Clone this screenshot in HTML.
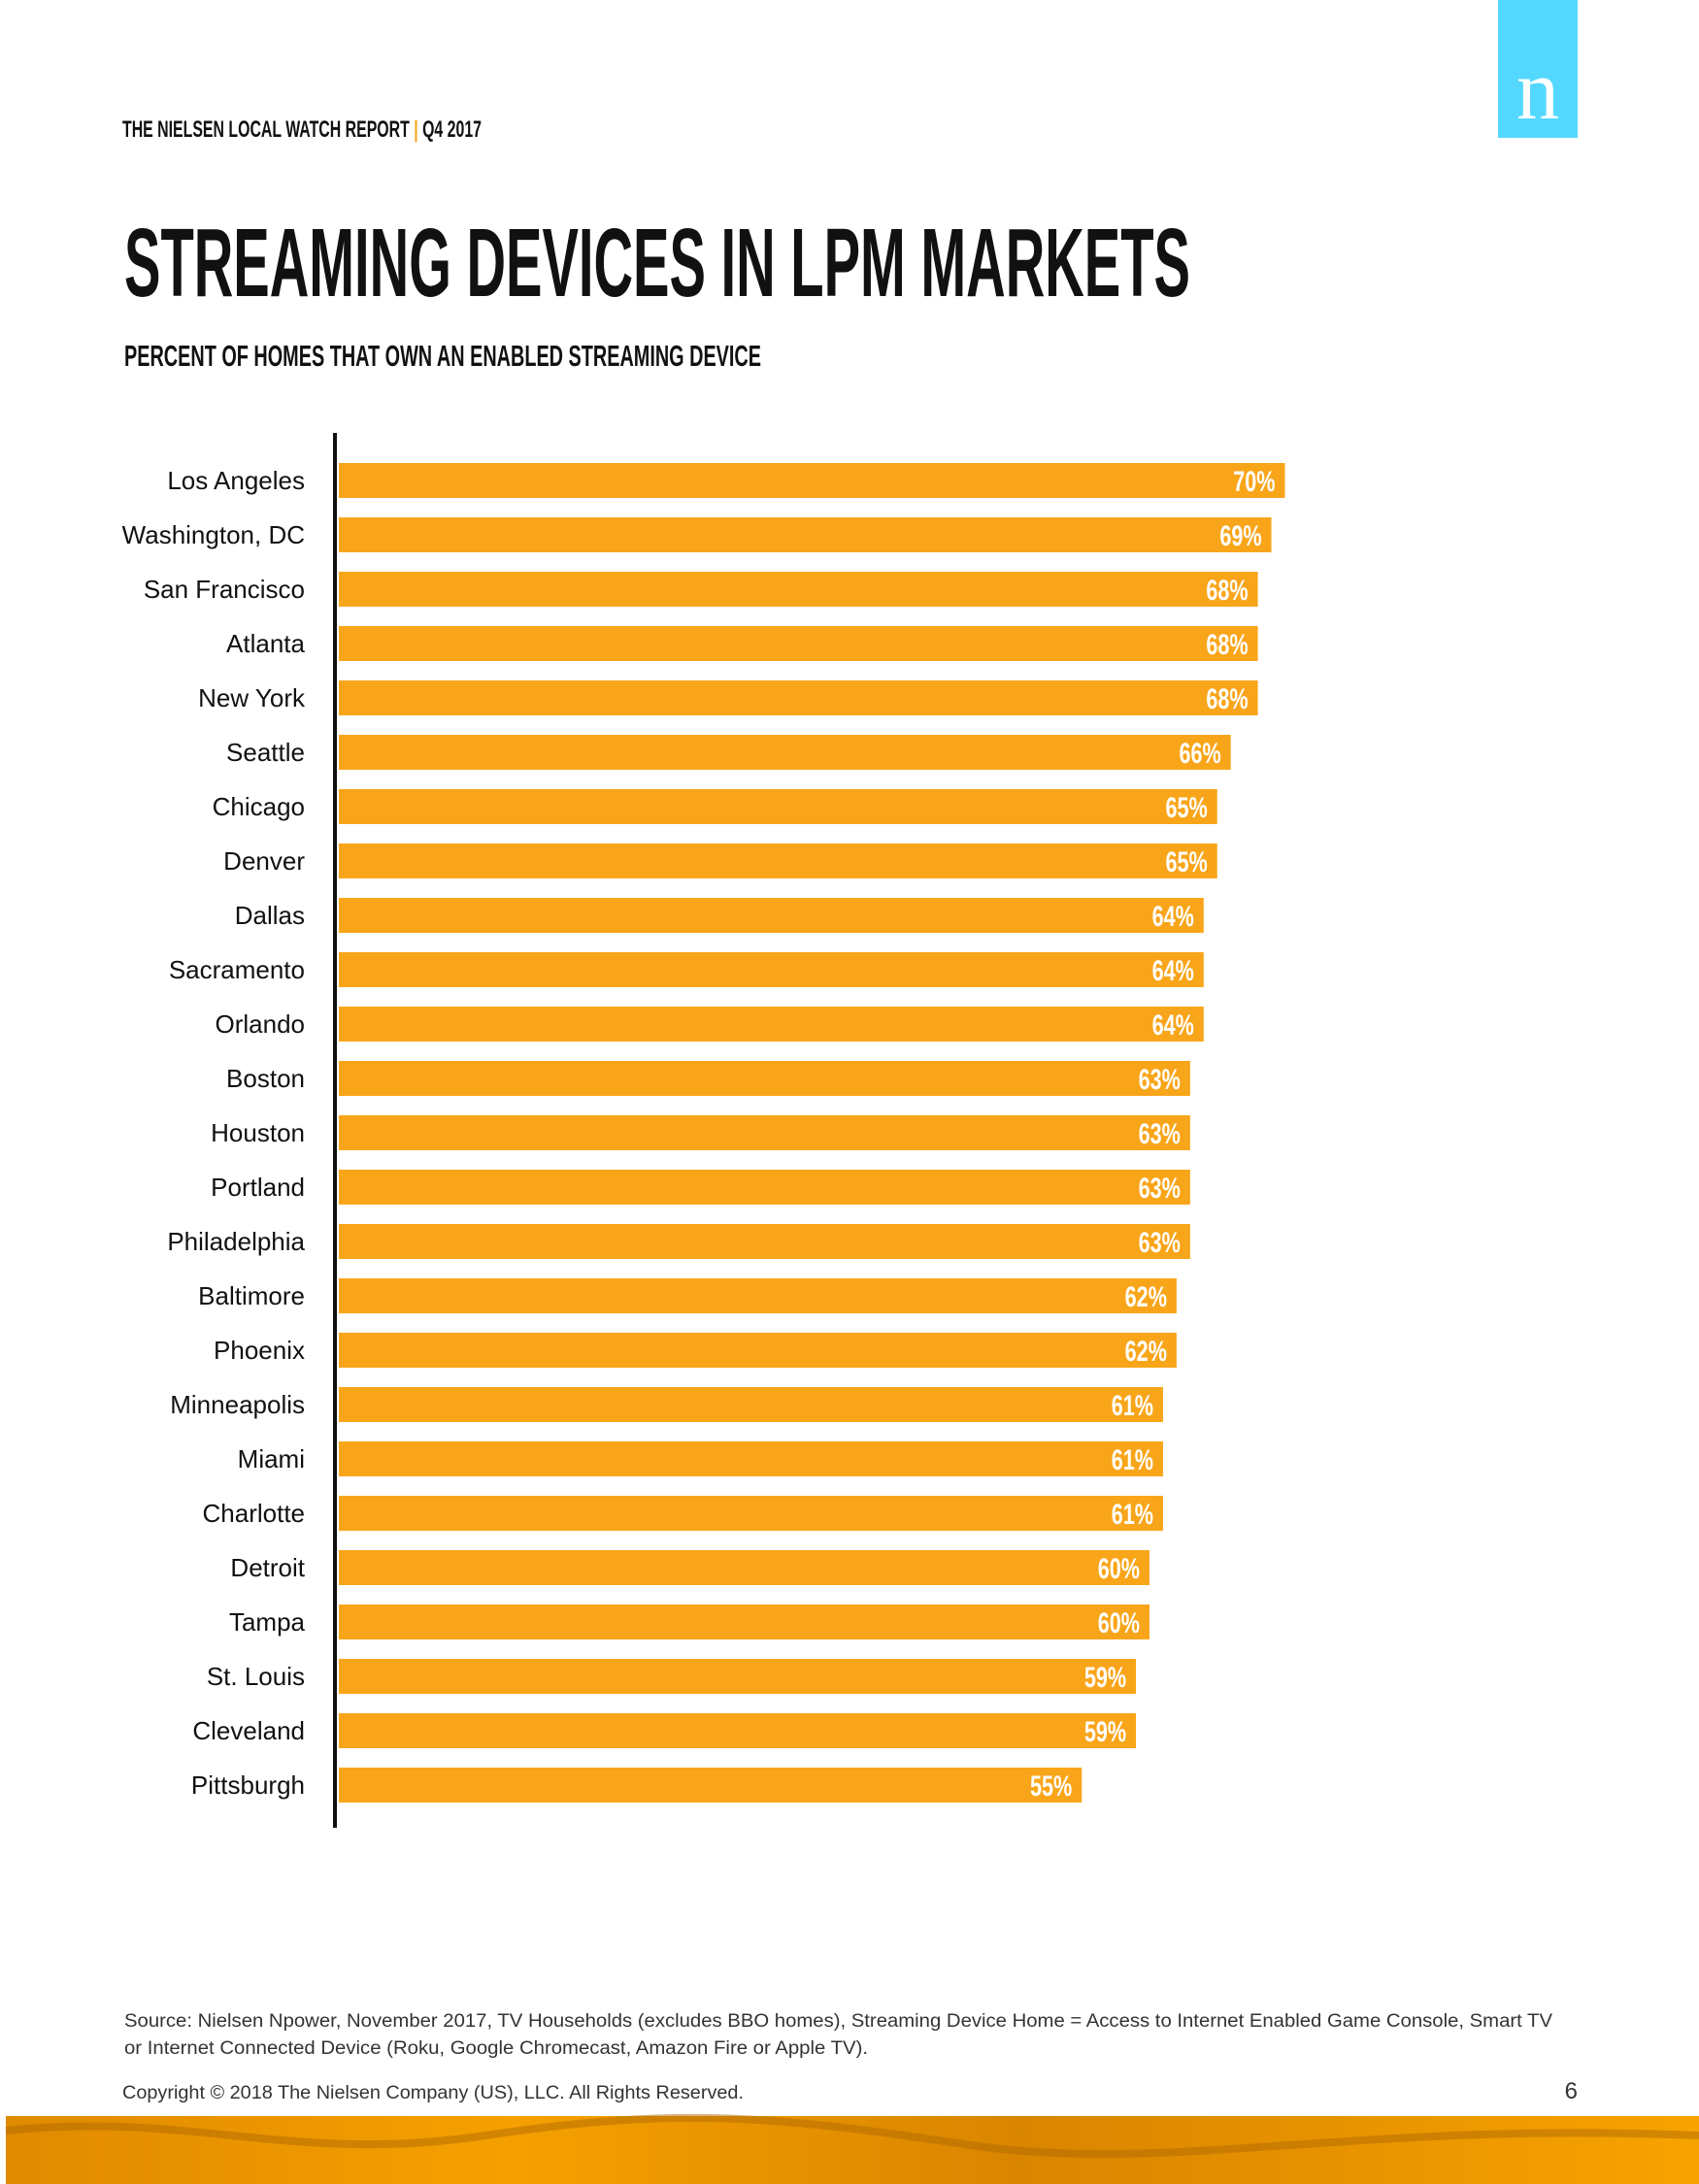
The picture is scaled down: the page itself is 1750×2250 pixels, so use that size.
<!DOCTYPE html>
<html><head><meta charset="utf-8"><style>
html,body{margin:0;padding:0;background:#fff;}
svg{display:block;}
</style></head><body>
<svg id="chart" width="1750" height="2250" viewBox="0 0 1750 2250" xmlns="http://www.w3.org/2000/svg">
<defs>
<linearGradient id="band" x1="0" y1="0" x2="1" y2="0">
<stop offset="0" stop-color="#e08a00"/><stop offset="0.3" stop-color="#f5a000"/><stop offset="0.6" stop-color="#d98500"/><stop offset="1" stop-color="#f7a300"/>
</linearGradient>
</defs>
<rect x="1543" y="0" width="82" height="142" fill="#55D8FF"/>
<text x="1584" y="122" font-family="Liberation Serif, serif" font-size="88" fill="#fff" text-anchor="middle">n</text>
<text x="126" y="141" font-family="Liberation Sans, sans-serif" font-weight="bold" font-size="24" textLength="370" lengthAdjust="spacingAndGlyphs" fill="#111">THE NIELSEN LOCAL WATCH REPORT <tspan fill="#F9A51A">|</tspan> Q4 2017</text>
<text x="128" y="305" font-family="Liberation Sans, sans-serif" font-weight="bold" font-size="100" textLength="1098" lengthAdjust="spacingAndGlyphs" fill="#111">STREAMING DEVICES IN LPM MARKETS</text>
<text x="128" y="377" font-family="Liberation Sans, sans-serif" font-weight="bold" font-size="31" textLength="656" lengthAdjust="spacingAndGlyphs" fill="#111">PERCENT OF HOMES THAT OWN AN ENABLED STREAMING DEVICE</text>
<g id="bars"></g>
<rect x="343" y="446" width="4" height="1437" fill="#111"/>
<text x="128" y="2088" font-family="Liberation Sans, sans-serif" font-size="19" fill="#333" textLength="1471" lengthAdjust="spacingAndGlyphs">Source: Nielsen Npower, November 2017, TV Households (excludes BBO homes), Streaming Device Home = Access to Internet Enabled Game Console, Smart TV</text>
<text x="128" y="2116" font-family="Liberation Sans, sans-serif" font-size="19" fill="#333" textLength="766" lengthAdjust="spacingAndGlyphs">or Internet Connected Device (Roku, Google Chromecast, Amazon Fire or Apple TV).</text>
<text x="126" y="2162" font-family="Liberation Sans, sans-serif" font-size="19" fill="#333" textLength="640" lengthAdjust="spacingAndGlyphs">Copyright © 2018 The Nielsen Company (US), LLC. All Rights Reserved.</text>
<text x="1625" y="2162" font-family="Liberation Sans, sans-serif" font-size="24" fill="#333" text-anchor="end">6</text>
<rect x="6" y="2180" width="1744" height="70" fill="url(#band)"/>
<path d="M6 2195 C200 2175 300 2230 500 2200 S800 2180 1000 2210 S1400 2185 1750 2200" stroke="#b06a00" stroke-width="8" fill="none" opacity="0.5"/>
</svg>
<script>
const categories = ["Los Angeles","Washington, DC","San Francisco","Atlanta","New York","Seattle","Chicago","Denver","Dallas","Sacramento","Orlando","Boston","Houston","Portland","Philadelphia","Baltimore","Phoenix","Minneapolis","Miami","Charlotte","Detroit","Tampa","St. Louis","Cleveland","Pittsburgh"];
const values = [70,69,68,68,68,66,65,65,64,64,64,63,63,63,63,62,62,61,61,61,60,60,59,59,55];
const valueLabels = ["70%","69%","68%","68%","68%","66%","65%","65%","64%","64%","64%","63%","63%","63%","63%","62%","62%","61%","61%","61%","60%","60%","59%","59%","55%"];
const NS = "http://www.w3.org/2000/svg";
const x0 = 347, kx = 13.95;
function xScale(v){ return x0 + v*kx; }
const yTop = 477, pitch = 56, barH = 36;
function yScale(i){ return yTop + i*pitch; }
const g = document.getElementById('bars');
categories.forEach((c,i)=>{
  const y = yScale(i);
  const r = document.createElementNS(NS,'rect');
  r.setAttribute('x', x0 + 2);
  r.setAttribute('y', y);
  r.setAttribute('width', xScale(values[i]) - x0 - 2);
  r.setAttribute('height', barH);
  r.setAttribute('fill', '#F9A51A');
  
  
  g.appendChild(r);
  const t = document.createElementNS(NS,'text');
  t.setAttribute('x', xScale(values[i]) - 10);
  t.setAttribute('y', y + barH/2 + 11);
  t.setAttribute('text-anchor', 'end');
  t.setAttribute('font-family', 'Liberation Sans, sans-serif');
  t.setAttribute('font-weight', 'bold');
  t.setAttribute('font-size', '30');
  t.setAttribute('fill', '#fff');
  t.setAttribute('transform', 'translate(' + (xScale(values[i]) - 10) + ',0) scale(0.72,1) translate(' + (-(xScale(values[i]) - 10)) + ',0)');
  t.textContent = valueLabels[i];
  
  
  g.appendChild(t);
  const l = document.createElementNS(NS,'text');
  l.setAttribute('x', 314);
  l.setAttribute('y', y + barH/2 + 9);
  l.setAttribute('text-anchor', 'end');
  l.setAttribute('font-family', 'Liberation Sans, sans-serif');
  l.setAttribute('font-size', '26');
  l.setAttribute('fill', '#111');
  l.textContent = c;
  
  
  g.appendChild(l);
});
</script>
</body></html>
